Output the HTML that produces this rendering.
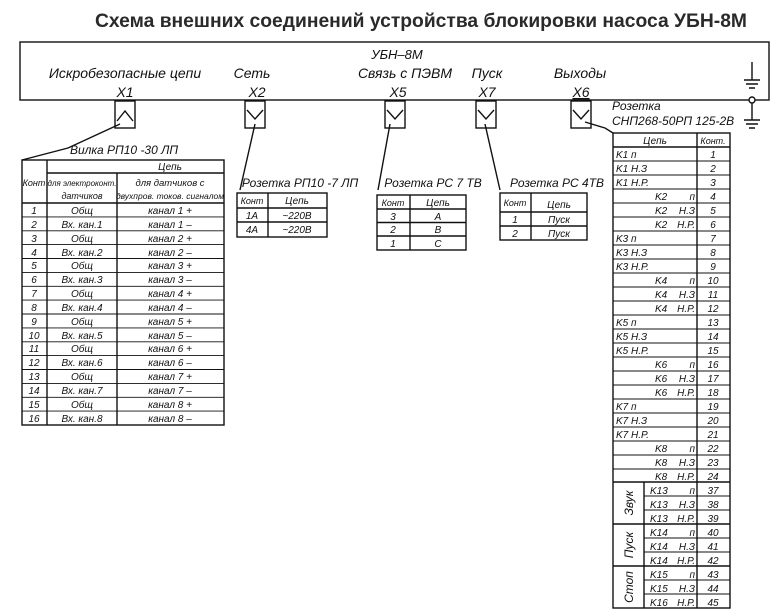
<!DOCTYPE html>
<html><head><meta charset="utf-8"><style>
html,body{margin:0;padding:0;background:#fff;width:782px;height:615px;overflow:hidden}
svg{display:block}
.t{font-family:"Liberation Sans",sans-serif;font-style:italic;fill:#111}
</style></head><body>
<svg width="782" height="615" viewBox="0 0 782 615" xmlns="http://www.w3.org/2000/svg">
<text x="421" y="27" text-anchor="middle" font-family="Liberation Sans, sans-serif" font-weight="bold" font-size="19" fill="#2a2a2a" textLength="652" lengthAdjust="spacingAndGlyphs">Схема внешних соединений устройства блокировки насоса УБН-8М</text>
<g stroke="#111" fill="none" stroke-width="1.4">
<rect x="20" y="42" width="749" height="58"/>
<rect x="115" y="101" width="20" height="27"/><path d="M117 121 L125 111 L133 121"/>
<rect x="245" y="101" width="20" height="27"/><path d="M247 110 L255 119 L263 110"/>
<rect x="385" y="101" width="20" height="27"/><path d="M387 110 L395 119 L403 110"/>
<rect x="476" y="101" width="20" height="27"/><path d="M478 110 L486 119 L494 110"/>
<rect x="571" y="101" width="20" height="27"/><path d="M573 110 L581 119 L589 110"/>
<path d="M752 62 V80 M744 80 H760 M746 84 H758 M749 88 H755"/>
<circle cx="752" cy="100" r="3" fill="#fff"/>
<path d="M752 103 V120 M744 120 H760 M746 124 H758 M749 128 H755"/>
<path d="M120 124 L68 148 L22 160"/>
<path d="M255 124 L240 190"/>
<path d="M390 124 L378 190"/>
<path d="M485 124 L500 190"/>
<path d="M585 122 L605 128 L613 133"/>
<rect x="22" y="160" width="202" height="265"/>
<path d="M47 160 V425 M117 173 V425 M47 173 H224 M22 203 H224"/>
<path stroke-width="0.9" d="M22 216.9H224M22 230.8H224M22 244.6H224M22 258.5H224M22 272.4H224M22 286.3H224M22 300.1H224M22 314H224M22 327.9H224M22 341.8H224M22 355.6H224M22 369.5H224M22 383.4H224M22 397.3H224M22 411.1H224"/>
<rect x="237" y="193" width="90" height="44"/>
<path d="M268 193 V237 M237 208 H327 M237 222 H327"/>
<rect x="377" y="195" width="89" height="55"/>
<path d="M410 195 V250 M377 209 H466 M377 222.5 H466 M377 236 H466"/>
<rect x="500" y="193" width="87" height="47"/>
<path d="M531 193 V240 M500 212 H587 M500 226 H587"/>
<rect x="613" y="133" width="117" height="475"/>
<path d="M697 133 V608 M644 482 V608 M613 147 H730 M613 482 H730 M613 524 H730 M613 566 H730"/>
<path stroke-width="0.9" d="M613 161H730M613 175H730M613 189H730M613 203H730M613 217H730M613 231H730M613 245H730M613 259H730M613 273H730M613 287H730M613 301H730M613 315H730M613 329H730M613 343H730M613 357H730M613 371H730M613 385H730M613 399H730M613 413H730M613 427H730M613 441H730M613 455H730M613 469H730M644 496H730M644 510H730M644 538H730M644 552H730M644 580H730M644 594H730"/>
</g>
<g class="t" font-size="14">
<text x="397" y="59" text-anchor="middle" font-size="13">УБН–8М</text>
<text x="125" y="78" text-anchor="middle">Искробезопасные цепи</text>
<text x="252" y="78" text-anchor="middle">Сеть</text>
<text x="405" y="78" text-anchor="middle">Связь с ПЭВМ</text>
<text x="487" y="78" text-anchor="middle">Пуск</text>
<text x="580" y="78" text-anchor="middle">Выходы</text>
<text x="125" y="97" text-anchor="middle">X1</text>
<text x="257" y="97" text-anchor="middle">X2</text>
<text x="398" y="97" text-anchor="middle">X5</text>
<text x="487" y="97" text-anchor="middle">X7</text>
<text x="581" y="97" text-anchor="middle" text-decoration="underline">X6</text>
</g>
<g class="t" font-size="12">
<text x="612" y="110">Розетка</text>
<text x="612" y="125">СНП268-50РП 125-2В</text>
<text x="124" y="154" text-anchor="middle">Вилка РП10 -30 ЛП</text>
<text x="300" y="187" text-anchor="middle">Розетка РП10 -7 ЛП</text>
<text x="433" y="187" text-anchor="middle">Розетка РС 7 ТВ</text>
<text x="557" y="187" text-anchor="middle">Розетка РС 4ТВ</text>
</g>
<g class="t" font-size="10" text-anchor="middle">
<text x="170" y="170">Цепь</text>
<text x="34" y="186" font-size="9">Конт</text>
<text x="82" y="186" font-size="8">для электроконт.</text>
<text x="82" y="199" font-size="9">датчиков</text>
<text x="170" y="186" font-size="9.5">для датчиков с</text>
<text x="170" y="199" font-size="8.5">двухпров. токов. сигналом</text>
<text x="34" y="214">1</text><text x="82" y="214">Общ</text><text x="170" y="214">канал 1 +</text>
<text x="34" y="228">2</text><text x="82" y="228">Вх. кан.1</text><text x="170" y="228">канал 1 –</text>
<text x="34" y="242">3</text><text x="82" y="242">Общ</text><text x="170" y="242">канал 2 +</text>
<text x="34" y="256">4</text><text x="82" y="256">Вх. кан.2</text><text x="170" y="256">канал 2 –</text>
<text x="34" y="269">5</text><text x="82" y="269">Общ</text><text x="170" y="269">канал 3 +</text>
<text x="34" y="283">6</text><text x="82" y="283">Вх. кан.3</text><text x="170" y="283">канал 3 –</text>
<text x="34" y="297">7</text><text x="82" y="297">Общ</text><text x="170" y="297">канал 4 +</text>
<text x="34" y="311">8</text><text x="82" y="311">Вх. кан.4</text><text x="170" y="311">канал 4 –</text>
<text x="34" y="325">9</text><text x="82" y="325">Общ</text><text x="170" y="325">канал 5 +</text>
<text x="34" y="339">10</text><text x="82" y="339">Вх. кан.5</text><text x="170" y="339">канал 5 –</text>
<text x="34" y="352">11</text><text x="82" y="352">Общ</text><text x="170" y="352">канал 6 +</text>
<text x="34" y="366">12</text><text x="82" y="366">Вх. кан.6</text><text x="170" y="366">канал 6 –</text>
<text x="34" y="380">13</text><text x="82" y="380">Общ</text><text x="170" y="380">канал 7 +</text>
<text x="34" y="394">14</text><text x="82" y="394">Вх. кан.7</text><text x="170" y="394">канал 7 –</text>
<text x="34" y="408">15</text><text x="82" y="408">Общ</text><text x="170" y="408">канал 8 +</text>
<text x="34" y="422">16</text><text x="82" y="422">Вх. кан.8</text><text x="170" y="422">канал 8 –</text>

<text x="252" y="204" font-size="9">Конт</text><text x="297" y="204">Цепь</text>
<text x="252" y="219">1A</text><text x="297" y="219">~220В</text>
<text x="252" y="233">4A</text><text x="297" y="233">~220В</text>

<text x="393" y="206" font-size="9">Конт</text><text x="438" y="206">Цепь</text>
<text x="393" y="220">3</text><text x="438" y="220">А</text>
<text x="393" y="233">2</text><text x="438" y="233">В</text>
<text x="393" y="247">1</text><text x="438" y="247">С</text>

<text x="515" y="206" font-size="9">Конт</text><text x="559" y="208">Цепь</text>
<text x="515" y="223">1</text><text x="559" y="223">Пуск</text>
<text x="515" y="237">2</text><text x="559" y="237">Пуск</text>

<text x="655" y="144">Цепь</text><text x="713" y="144" font-size="9">Конт.</text>
</g>
<g class="t" font-size="10">
<text x="616" y="158">K1  п</text><text x="616" y="172">K1  Н.З</text><text x="616" y="186">K1  Н.Р.</text>
<text x="655" y="200">K2</text><text x="655" y="214">K2</text><text x="655" y="228">K2</text>
<text x="616" y="242">K3  п</text><text x="616" y="256">K3  Н.З</text><text x="616" y="270">K3 Н.Р.</text>
<text x="655" y="284">K4</text><text x="655" y="298">K4</text><text x="655" y="312">K4</text>
<text x="616" y="326">K5  п</text><text x="616" y="340">K5  Н.З</text><text x="616" y="354">K5  Н.Р.</text>
<text x="655" y="368">K6</text><text x="655" y="382">K6</text><text x="655" y="396">K6</text>
<text x="616" y="410">K7  п</text><text x="616" y="424">K7  Н.З</text><text x="616" y="438">K7  Н.Р.</text>
<text x="655" y="452">K8</text><text x="655" y="466">K8</text><text x="655" y="480">K8</text>
<text x="650" y="494">K13</text><text x="650" y="508">K13</text><text x="650" y="522">K13</text>
<text x="650" y="536">K14</text><text x="650" y="550">K14</text><text x="650" y="564">K14</text>
<text x="650" y="578">K15</text><text x="650" y="592">K15</text><text x="650" y="606">K16</text>
</g>
<g class="t" font-size="10" text-anchor="end">
<text x="695" y="200">п</text><text x="695" y="214">Н.З</text><text x="695" y="228">Н.Р.</text>
<text x="695" y="284">п</text><text x="695" y="298">Н.З</text><text x="695" y="312">Н.Р.</text>
<text x="695" y="368">п</text><text x="695" y="382">Н.З</text><text x="695" y="396">Н.Р.</text>
<text x="695" y="452">п</text><text x="695" y="466">Н.З</text><text x="695" y="480">Н.Р.</text>
<text x="695" y="494">п</text><text x="695" y="508">Н.З</text><text x="695" y="522">Н.Р.</text>
<text x="695" y="536">п</text><text x="695" y="550">Н.З</text><text x="695" y="564">Н.Р.</text>
<text x="695" y="578">п</text><text x="695" y="592">Н.З</text><text x="695" y="606">Н.Р.</text>
</g>
<g class="t" font-size="10" text-anchor="middle">
<text x="713" y="158">1</text><text x="713" y="172">2</text><text x="713" y="186">3</text><text x="713" y="200">4</text><text x="713" y="214">5</text><text x="713" y="228">6</text><text x="713" y="242">7</text><text x="713" y="256">8</text><text x="713" y="270">9</text><text x="713" y="284">10</text><text x="713" y="298">11</text><text x="713" y="312">12</text><text x="713" y="326">13</text><text x="713" y="340">14</text><text x="713" y="354">15</text><text x="713" y="368">16</text><text x="713" y="382">17</text><text x="713" y="396">18</text><text x="713" y="410">19</text><text x="713" y="424">20</text><text x="713" y="438">21</text><text x="713" y="452">22</text><text x="713" y="466">23</text><text x="713" y="480">24</text><text x="713" y="494">37</text><text x="713" y="508">38</text><text x="713" y="522">39</text><text x="713" y="536">40</text><text x="713" y="550">41</text><text x="713" y="564">42</text><text x="713" y="578">43</text><text x="713" y="592">44</text><text x="713" y="606">45</text>
<text transform="translate(633 503) rotate(-90)" font-size="12">Звук</text>
<text transform="translate(633 545) rotate(-90)" font-size="12">Пуск</text>
<text transform="translate(633 587) rotate(-90)" font-size="12">Стоп</text>
</g>
</svg>
</body></html>
